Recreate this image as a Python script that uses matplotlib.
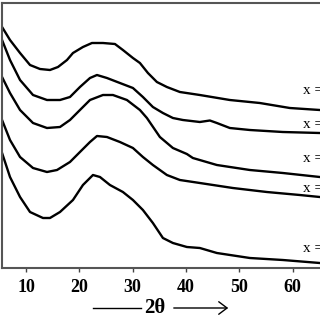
import matplotlib.pyplot as plt

# 2theta (deg) and intensity (arb. units, offset stacked)
two_theta_1 = [5.51, 7.00, 8.88, 10.75, 12.62, 14.49, 15.99, 17.68, 18.80, 20.67, 22.36, 24.42,
               26.67, 28.16, 30.04, 31.35, 32.85, 34.53, 36.40, 38.84, 42.58, 48.20, 53.82,
               59.44, 65.06]
counts_1 = [241, 228, 215, 203, 199, 198, 201, 208, 215, 221, 225, 225,
            224, 218, 210, 205, 195, 186, 181, 176, 173, 168, 165,
            160, 158]

two_theta_2 = [5.51, 7.00, 8.88, 11.31, 13.93, 16.37, 18.24, 20.11, 21.99, 23.30, 25.17, 27.60,
               30.04, 31.91, 33.78, 35.66, 37.53, 39.40, 42.58, 44.46, 45.77, 48.20, 51.95,
               58.13, 65.06]
counts_2 = [228, 208, 188, 173, 168, 168, 171, 181, 190, 193, 190, 185,
            180, 171, 161, 155, 150, 148, 146, 147.5, 145, 140, 138,
            136, 135]

two_theta_3 = [5.51, 7.00, 8.88, 11.31, 13.93, 16.37, 18.24, 20.11, 21.99, 24.42, 26.29, 28.91,
               31.35, 32.66, 35.09, 37.53, 40.15, 41.27, 45.77, 51.95, 58.13, 65.06]
counts_3 = [191, 175, 158, 145, 140, 141, 148, 158, 168, 173, 173, 168,
            158, 150, 131, 120, 114, 110, 103, 98, 95, 91]

two_theta_4 = [5.51, 7.00, 8.88, 11.31, 13.93, 15.81, 18.24, 20.11, 21.99, 23.30, 25.17, 27.60,
               30.04, 31.91, 33.78, 36.40, 38.84, 42.58, 48.76, 55.13, 61.31, 65.06]
counts_4 = [148, 128, 111, 100, 96, 98, 106, 116, 126, 132, 131, 126,
            120, 111, 103, 93, 88, 85, 80, 76, 73, 71]

two_theta_5 = [5.51, 7.00, 8.88, 10.75, 13.18, 14.49, 16.37, 18.80, 20.67, 22.55, 23.86, 25.73,
               28.16, 30.04, 31.91, 33.78, 35.66, 37.53, 40.15, 42.58, 45.77, 51.95, 58.13,
               65.06]
counts_5 = [115, 91, 71, 56, 50, 50, 56, 68, 83, 93, 91, 83,
            76, 68, 58, 45, 30, 25, 21, 20, 15, 10, 8,
            5]

series = [(two_theta_1, counts_1), (two_theta_2, counts_2), (two_theta_3, counts_3),
          (two_theta_4, counts_4), (two_theta_5, counts_5)]

labels = ['x = 0.20', 'x = 0.15', 'x = 0.10', 'x = 0.05', 'x = 0']
label_y = [178, 143, 110, 80, 20]
ticks = [10, 20, 30, 40, 50, 60]

fig = plt.figure(figsize=(3.2, 3.2), dpi=100)
ax = fig.add_axes([2 / 320, 52 / 320, 318 / 320, 265 / 320])

for tt, cc in series:
    ax.plot(tt, cc, color='black', linewidth=1.7, solid_joinstyle='round')

# sample labels run off the right edge, as in the source figure
for lab, yy in zip(labels, label_y):
    ax.text(61.9, yy, lab, fontsize=11, family='Liberation Serif',
            ha='left', va='center', color='black')

ax.set_xlim(5.5, 65.1)
ax.set_ylim(0, 265)
ax.set_xticks(ticks)
ax.set_xticklabels([str(t) for t in ticks], fontsize=13, fontweight='bold',
                   family='Liberation Serif')
ax.set_yticks([])
ax.tick_params(axis='x', direction='out', length=3, width=1, color='#444444', pad=5)

for side in ['left', 'top', 'bottom']:
    ax.spines[side].set_color('#555555')
    ax.spines[side].set_linewidth(1.5)
ax.spines['right'].set_visible(False)

# axis label "—— 2θ ——>"
fig.text(155 / 320, 1 - 308 / 320, '2θ', fontsize=15, fontweight='bold',
         family='Liberation Serif', ha='center', va='center')
fig.add_artist(plt.Line2D([93 / 320, 141 / 320], [1 - 308 / 320, 1 - 308 / 320],
                          color='black', linewidth=1))
ax.annotate('', xy=(231 / 320, 1 - 308 / 320), xytext=(171 / 320, 1 - 308 / 320),
            xycoords='figure fraction', textcoords='figure fraction',
            arrowprops=dict(arrowstyle='->,head_length=0.6,head_width=0.45',
                            color='black', linewidth=1))

fig.savefig('out.png', dpi=100)
